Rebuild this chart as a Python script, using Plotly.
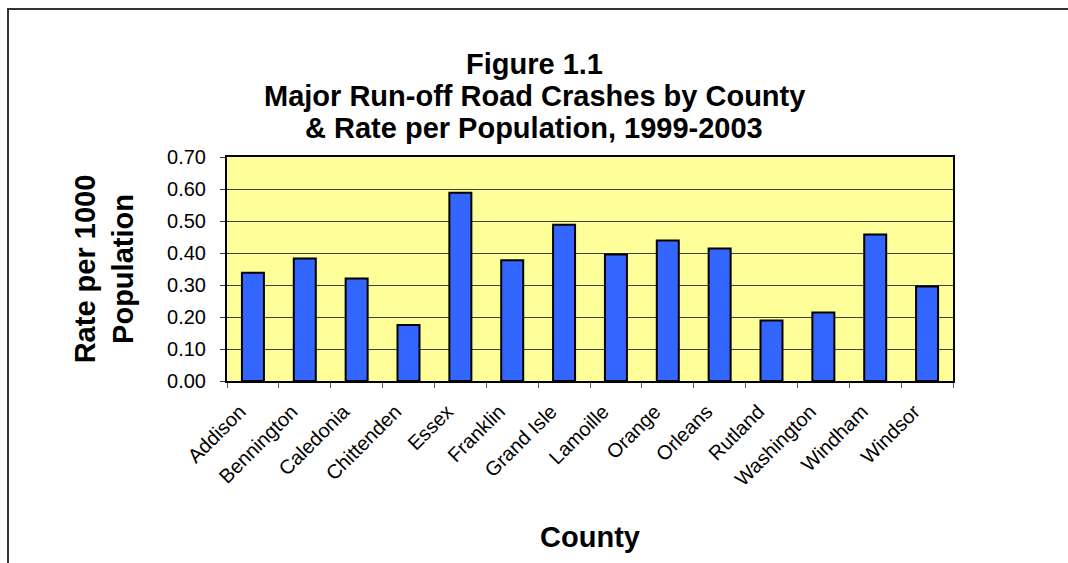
import plotly.graph_objects as go

counties = ["Addison", "Bennington", "Caledonia", "Chittenden", "Essex", "Franklin",
            "Grand Isle", "Lamoille", "Orange", "Orleans", "Rutland", "Washington",
            "Windham", "Windsor"]
rates = [0.338, 0.383, 0.320, 0.175, 0.588, 0.377, 0.488, 0.395, 0.439, 0.414,
         0.189, 0.214, 0.458, 0.295]
y_ticks = [0.0, 0.1, 0.2, 0.3, 0.4, 0.5, 0.6, 0.7]
title_lines = ["Figure 1.1",
               "Major Run-off Road Crashes by County",
               "& Rate per Population, 1999-2003"]
y_title = "Rate per 1000<br>Population"
x_title = "County"

FONT = "Liberation Sans, Arial, sans-serif"
TFONT = dict(family=FONT, size=29, color="#000000")

# plot area in pixels: x 227..953, y 157..381
def px_to_paper_x(px):
    return (px - 227) / 726

def py_to_paper_y(py):
    return (381 - py) / 224

fig = go.Figure()
fig.add_trace(go.Bar(
    x=counties, y=rates,
    marker=dict(color="#3366FF", line=dict(color="#000000", width=2)),
    hoverinfo="x+y",
))

line_centers = [64, 96, 128]
annotations = [dict(text="<b>" + t + "</b>", xref="paper", yref="paper",
                    x=px_to_paper_x(534), y=py_to_paper_y(c),
                    xanchor="center", yanchor="middle", showarrow=False, font=TFONT)
               for t, c in zip(title_lines, line_centers)]

fig.update_layout(
    width=1068, height=563,
    margin=dict(l=227, r=115, t=157, b=182, autoexpand=False),
    paper_bgcolor="#FFFFFF",
    plot_bgcolor="#FFFF99",
    bargap=0.576,
    showlegend=False,
    font=dict(family=FONT, color="#000000", size=20),
    annotations=annotations,
    shapes=[dict(type="rect", xref="paper", yref="paper",
                 x0=px_to_paper_x(8), x1=1.3, y0=-1.2, y1=py_to_paper_y(9),
                 line=dict(color="#333333", width=2), fillcolor="rgba(0,0,0,0)", layer="below")],
)

fig.update_xaxes(
    type="category",
    tickangle=-45,
    tickson="boundaries",
    ticks="outside", ticklen=5, tickcolor="#555555", tickwidth=1,
    showline=True, linecolor="#000000", linewidth=2, mirror=True,
    showgrid=False,
    ticklabelstandoff=9,
    ticklabelshift=-13,
    tickfont=dict(family=FONT, size=20, color="#000000"),
    title=dict(text="<b>" + x_title + "</b>", font=TFONT, standoff=38),
)
fig.update_yaxes(
    range=[0, 0.7],
    tickvals=y_ticks,
    tickformat=".2f",
    ticks="outside", ticklen=5, tickcolor="#333333", tickwidth=1,
    showline=True, linecolor="#000000", linewidth=2, mirror=True,
    showgrid=True, gridcolor="#404040", gridwidth=1,
    zeroline=False,
    ticklabelstandoff=10,
    tickfont=dict(family=FONT, size=20, color="#000000"),
    title=dict(text="<b>" + y_title + "</b>", font=TFONT, standoff=25),
)

fig.write_html("out.html")
